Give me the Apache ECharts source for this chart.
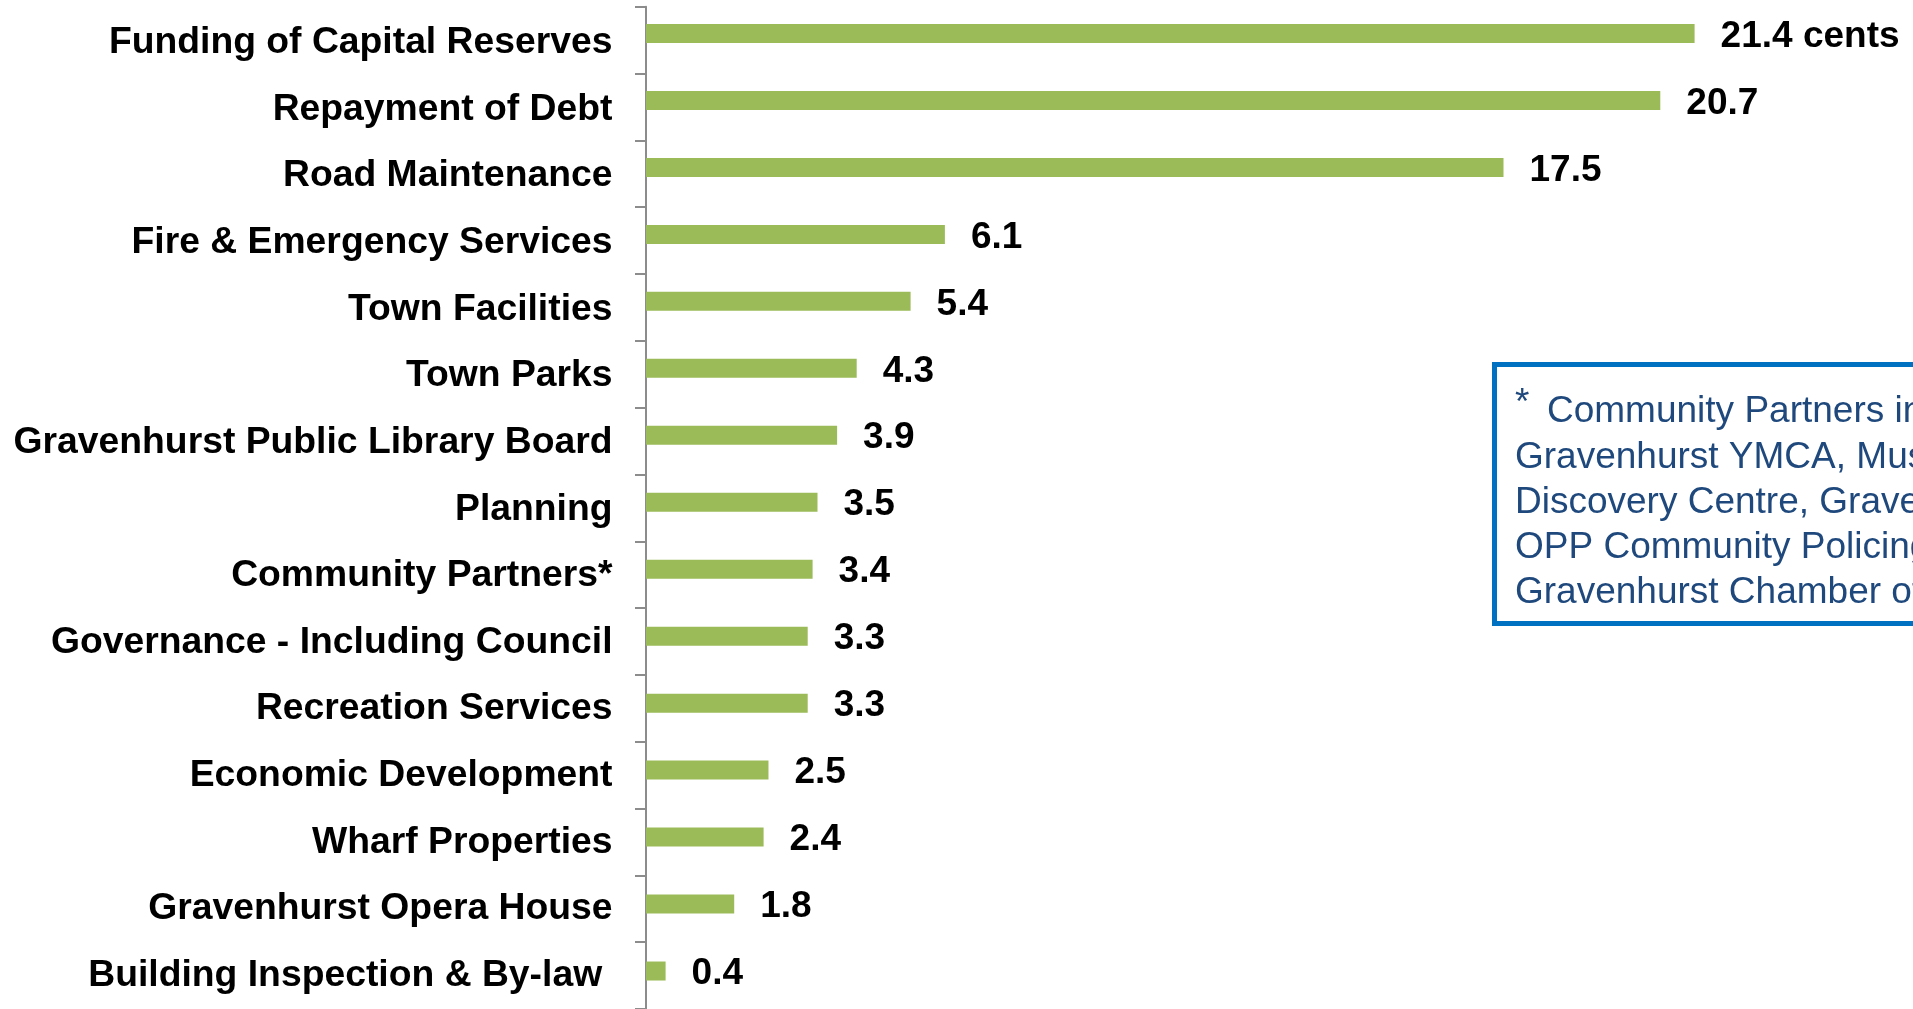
<!DOCTYPE html>
<html>
<head>
<meta charset="utf-8">
<title>Cents per tax dollar</title>
<script src="https://cdn.jsdelivr.net/npm/echarts@6/dist/echarts.min.js"></script>
<style>
  html, body { margin: 0; padding: 0; background: #fff; }
  #main { width: 1913px; height: 1009px; }
</style>
</head>
<body>
<div id="main"></div>
<script>
// data
var categories = [
  'Funding of Capital Reserves',
  'Repayment of Debt',
  'Road Maintenance',
  'Fire & Emergency Services',
  'Town Facilities',
  'Town Parks',
  'Gravenhurst Public Library Board',
  'Planning',
  'Community Partners*',
  'Governance - Including Council',
  'Recreation Services',
  'Economic Development',
  'Wharf Properties',
  'Gravenhurst Opera House',
  'Building Inspection & By-law '
];
var cents = [21.4, 20.7, 17.5, 6.1, 5.4, 4.3, 3.9, 3.5, 3.4, 3.3, 3.3, 2.5, 2.4, 1.8, 0.4];
var noteLines = [
  'Gravenhurst YMCA, Muskoka',
  'Discovery Centre, Gravenhurst',
  'OPP Community Policing,',
  'Gravenhurst Chamber of Commerce'
];

var FONT = '"Liberation Sans", Arial, sans-serif';
var chart = echarts.init(document.getElementById('main'));

// grid 0: axis line + ticks, grid 1: bars (a bit higher in each band), grid 2: category labels (a bit lower)
var bandH = 1007.3;
chart.setOption({
  animation: false,
  grid: [
    { left: 646, right: 42, top: 6.7, height: bandH },
    { left: 646, right: 42, top: -2.8, height: bandH },
    { left: 646, right: 42, top: 9.5, height: 1008.9 }
  ],
  xAxis: [
    { gridIndex: 0, type: 'value', min: 0, max: 25, show: false },
    { gridIndex: 1, type: 'value', min: 0, max: 25, show: false },
    { gridIndex: 2, type: 'value', min: 0, max: 25, show: false }
  ],
  yAxis: [
    {
      gridIndex: 0, type: 'category', data: categories, inverse: true,
      axisLine: { show: true, lineStyle: { color: '#8c8c8c', width: 2 } },
      axisTick: { show: true, length: 11, lineStyle: { color: '#8c8c8c', width: 2 } },
      axisLabel: { show: false },
      splitLine: { show: false }
    },
    { gridIndex: 1, type: 'category', data: categories, inverse: true, show: false },
    {
      gridIndex: 2, type: 'category', data: categories, inverse: true,
      axisLine: { show: false },
      axisTick: { show: false },
      axisLabel: { margin: 33.5, fontFamily: FONT, fontSize: 37.3, fontWeight: 'bold', color: '#000' },
      splitLine: { show: false }
    }
  ],
  series: [{
    type: 'bar',
    xAxisIndex: 1,
    yAxisIndex: 1,
    data: cents,
    barWidth: 19,
    itemStyle: { color: '#9BBB59' },
    label: {
      show: true,
      position: 'right',
      distance: 26,
      offset: [0, 3],
      fontFamily: FONT,
      fontSize: 37,
      fontWeight: 'bold',
      color: '#000',
      formatter: function (p) {
        return p.dataIndex === 0 ? p.value + ' cents' : String(p.value);
      }
    }
  }],
  graphic: [
    {
      type: 'rect',
      shape: { x: 1494.5, y: 364.5, width: 520, height: 259 },
      style: { fill: '#fff', stroke: '#0070C0', lineWidth: 5 },
      z: 10
    },
    {
      type: 'text', x: 1515, y: 404, z: 11,
      style: { text: '*', font: '37px ' + FONT, fill: '#1F497D', verticalAlign: 'middle' }
    },
    {
      type: 'text', x: 1547, y: 412, z: 11,
      style: { text: 'Community Partners include:', font: '37px ' + FONT, fill: '#1F497D', verticalAlign: 'middle' }
    },
    {
      type: 'text', x: 1515, y: 435, z: 11,
      style: { text: noteLines.join('\n'), font: '37px ' + FONT, lineHeight: 45, fill: '#1F497D', verticalAlign: 'top' }
    }
  ]
});
</script>
</body>
</html>
